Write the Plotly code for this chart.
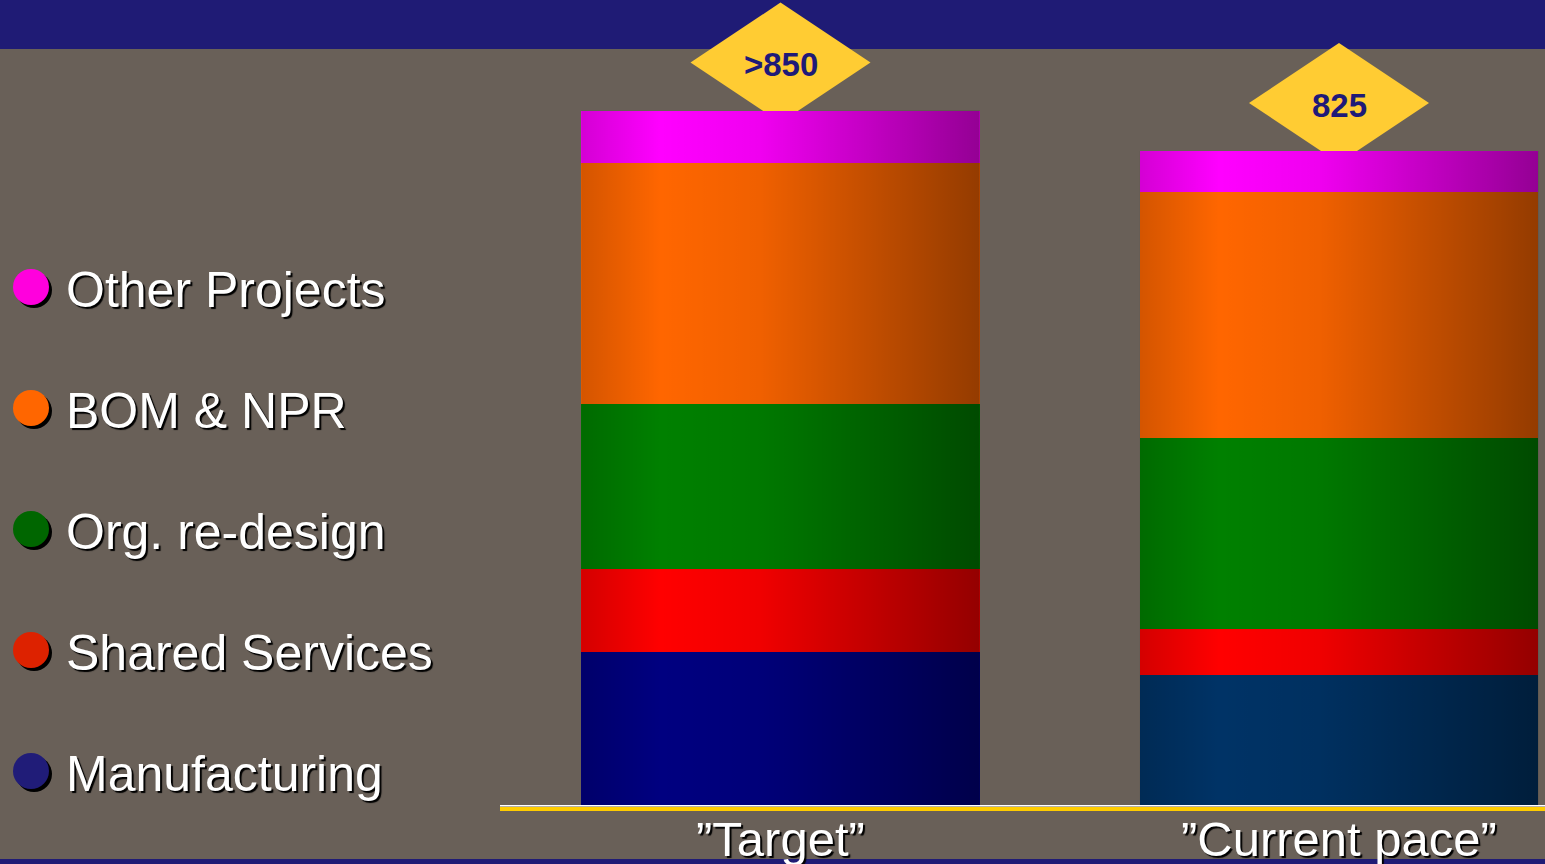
import base64
import plotly.graph_objects as go

# ---- data ---------------------------------------------------------------
categories = ["\u201dTarget\u201d", "\u201dCurrent pace\u201d"]
series = ["Manufacturing", "Shared Services", "Org. re-design", "BOM & NPR", "Other Projects"]
manufacturing = [193, 164]
shared_services = [105, 58]
org_redesign = [208, 241]
bom_npr = [304, 310]
other_projects = [66, 52]
total_labels = [">850", "825"]

# ---- styling -------------------------------------------------------------
BG = "#696058"
BAND = "#1f1b75"
DIAMOND = "#ffcc33"
FONT = "Liberation Sans, Arial, sans-serif"
SHADOW = "2px 2px 1px #000000"

bar_colors = {
    "Manufacturing": ["#000080", "#003366"],
    "Shared Services": ["#ff0000", "#ff0000"],
    "Org. re-design": ["#008000", "#008000"],
    "BOM & NPR": ["#ff6600", "#ff6600"],
    "Other Projects": ["#ff00ff", "#ff00ff"],
}
legend_colors = {
    "Manufacturing": "#201c78",
    "Shared Services": "#dd2200",
    "Org. re-design": "#006600",
    "BOM & NPR": "#ff6600",
    "Other Projects": "#ff00dd",
}

values = {
    "Manufacturing": manufacturing,
    "Shared Services": shared_services,
    "Org. re-design": org_redesign,
    "BOM & NPR": bom_npr,
    "Other Projects": other_projects,
}

W, H = 1545, 864
MARGIN_B = 57
PLOT_H = H - MARGIN_B
AXIS_LEFT_PX = 500
BAR_WIDTH = 0.714

x_pos = list(range(len(categories)))
totals = [sum(values[s][i] for s in series) for i in x_pos]

fig = go.Figure()

# stacked bars
for s in series:
    fig.add_trace(go.Bar(
        x=x_pos, y=values[s], name=s, width=BAR_WIDTH,
        marker=dict(color=bar_colors[s], line=dict(width=0)),
        showlegend=False, hoverinfo="name+y",
    ))

# horizontal shading laid over each bar
grad_svg = (
    '<svg xmlns="http://www.w3.org/2000/svg" width="100" height="100" '
    'viewBox="0 0 100 100" preserveAspectRatio="none">'
    '<defs><linearGradient id="g" x1="0" y1="0" x2="1" y2="0">'
    '<stop offset="0" stop-color="#000" stop-opacity="0.17"/>'
    '<stop offset="0.2" stop-color="#000" stop-opacity="0"/>'
    '<stop offset="0.45" stop-color="#000" stop-opacity="0.06"/>'
    '<stop offset="1" stop-color="#000" stop-opacity="0.42"/>'
    '</linearGradient></defs>'
    '<rect width="100" height="100" fill="url(#g)"/></svg>'
)
grad_uri = "data:image/svg+xml;base64," + base64.b64encode(grad_svg.encode()).decode()
images = []
for i, t in zip(x_pos, totals):
    images.append(dict(
        source=grad_uri, xref="x", yref="y",
        x=i - BAR_WIDTH / 2, y=t, sizex=BAR_WIDTH, sizey=t,
        xanchor="left", yanchor="top", sizing="stretch",
        layer="above", opacity=1,
    ))

# legend drawn on its own overlay axes
legend_rows = list(range(len(series)))
fig.add_trace(go.Scatter(
    x=[34] * len(series), y=[r - 0.025 for r in legend_rows],
    xaxis="x2", yaxis="y2", mode="markers",
    marker=dict(size=36, color="#000000", line=dict(width=0)),
    showlegend=False, hoverinfo="skip",
))
fig.add_trace(go.Scatter(
    x=[31] * len(series), y=legend_rows,
    xaxis="x2", yaxis="y2", mode="markers",
    marker=dict(size=36, color=[legend_colors[s] for s in series], line=dict(width=0)),
    showlegend=False, hoverinfo="skip",
))
fig.add_trace(go.Scatter(
    x=[66] * len(series), y=[r - 0.065 for r in legend_rows],
    xaxis="x2", yaxis="y2", mode="text", text=series,
    textposition="middle right",
    textfont=dict(family=FONT, size=50, color="#ffffff", shadow=SHADOW),
    showlegend=False, hoverinfo="skip",
))

# value diamonds behind the bar tops, with their labels
shapes = [
    dict(type="rect", xref="paper", yref="paper", x0=0, x1=1,
         y0=1 - 49 / PLOT_H, y1=1, fillcolor=BAND, line=dict(width=0), layer="below"),
    dict(type="rect", xref="paper", yref="paper", x0=0, x1=1,
         y0=-(MARGIN_B) / PLOT_H, y1=-(MARGIN_B - 5) / PLOT_H,
         fillcolor=BAND, line=dict(width=0), layer="below"),
    dict(type="line", xref="paper", yref="paper", x0=AXIS_LEFT_PX / W, x1=1,
         y0=0.0015, y1=0.0015, line=dict(color="#ffffff", width=1.5), layer="above"),
]
annotations = []
for i, t, lab in zip(x_pos, totals, total_labels):
    shapes.append(dict(
        type="path", xref="x", yref="y", xsizemode="pixel", ysizemode="pixel",
        xanchor=i, yanchor=t, path="M -90,48 L 0,108 L 90,48 L 0,-12 Z",
        fillcolor=DIAMOND, line=dict(width=0), layer="below",
    ))
    annotations.append(dict(
        x=i, y=t, xref="x", yref="y", yshift=46, showarrow=False,
        text="<b>%s</b>" % lab,
        font=dict(family=FONT, size=33, color="#1f1a78"),
    ))

# category names under the baseline
for i, cat in zip(x_pos, categories):
    annotations.append(dict(
        x=i, y=0, xref="x", yref="paper", yanchor="middle", yshift=-32,
        showarrow=False, text=cat,
        font=dict(family=FONT, size=49, color="#ffffff", shadow=SHADOW),
    ))

px_per_unit = 0.7927
y_lo = -2.5
y_hi = y_lo + PLOT_H / px_per_unit
cat_px = 558.5
center0 = 780.5
x_lo = (AXIS_LEFT_PX - center0) / cat_px
x_hi = (W - center0) / cat_px

row_px = 121
first_row_px = 771
fig.update_layout(
    width=W, height=H,
    margin=dict(l=0, r=0, t=0, b=MARGIN_B, autoexpand=False),
    paper_bgcolor=BG, plot_bgcolor=BG,
    barmode="stack", bargap=0,
    shapes=shapes, annotations=annotations, images=images,
    xaxis=dict(
        domain=[AXIS_LEFT_PX / W, 1], range=[x_lo, x_hi], automargin=False,
        tickvals=x_pos, showticklabels=False, ticks="",
        showline=True, linecolor="#ffcc00", linewidth=4,
        showgrid=False, zeroline=False, fixedrange=True,
    ),
    yaxis=dict(range=[y_lo, y_hi], visible=False, showgrid=False, zeroline=False,
               fixedrange=True, automargin=False),
    xaxis2=dict(domain=[0, AXIS_LEFT_PX / W], range=[0, AXIS_LEFT_PX], visible=False,
                anchor="y2", fixedrange=True),
    yaxis2=dict(domain=[0, 1], anchor="x2", visible=False, fixedrange=True,
                range=[-(PLOT_H - first_row_px) / row_px, first_row_px / row_px]),
    showlegend=False,
)

fig.write_html("out.html")
